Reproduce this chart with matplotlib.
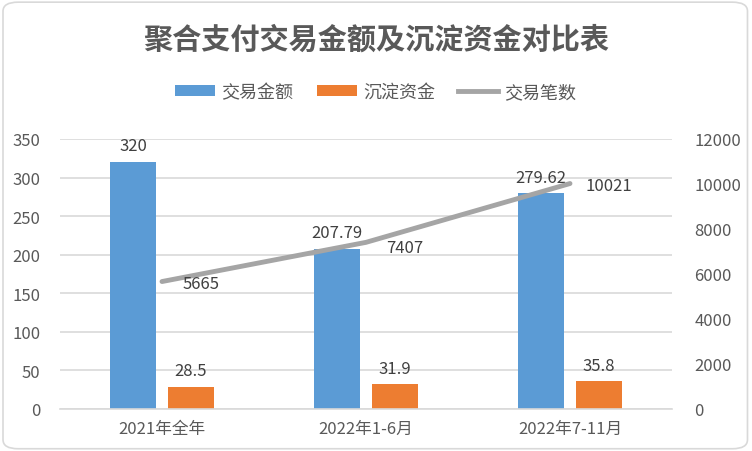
import matplotlib
matplotlib.use("Agg")
import matplotlib.pyplot as plt
from matplotlib.patches import FancyBboxPatch
from matplotlib.lines import Line2D
from matplotlib.patches import Patch
import numpy as np

plt.rcParams['font.family'] = ['Noto Sans CJK SC', 'DejaVu Sans']

# data
categories = ["2021年全年", "2022年1-6月", "2022年7-11月"]
amount = [320, 207.79, 279.62]          # 交易金额
deposit = [28.5, 31.9, 35.8]            # 沉淀资金
count = [5665, 7407, 10021]             # 交易笔数
amount_labels = ["320", "207.79", "279.62"]
deposit_labels = ["28.5", "31.9", "35.8"]

BLUE = "#5B9BD5"
ORANGE = "#ED7D31"
GRAY = "#A5A5A5"
TXT = "#595959"

fig = plt.figure(figsize=(7.52, 4.52), dpi=100)
fig.patch.set_facecolor("white")

# rounded chart border
border = FancyBboxPatch((0.004, 0.005), 0.99, 0.988,
                        boxstyle="round,pad=0,rounding_size=0.02",
                        transform=fig.transFigure, facecolor="none",
                        edgecolor="#D9D9D9", linewidth=1.2)
fig.patches.append(border)

ax = fig.add_axes([60 / 752, 1 - 410 / 452, 612 / 752, 270 / 452])
ax2 = ax.twinx()

x = np.arange(len(categories))
w = 0.225
off = 0.142
ax.bar(x - off, amount, w, color=BLUE, zorder=2)
ax.bar(x + off, deposit, w, color=ORANGE, zorder=2)

ax.set_xlim(-0.5, 2.5)
ax.set_ylim(0, 350)
ax.set_yticks(np.arange(0, 351, 50))
ax.grid(axis="y", color="#D9D9D9", linewidth=1.2, zorder=0)
ax.set_axisbelow(True)
for s in ["top", "right", "left"]:
    ax.spines[s].set_visible(False)
ax.spines["bottom"].set_color("#D9D9D9")
ax.spines["bottom"].set_linewidth(1.2)
ax.tick_params(axis="both", length=0, labelsize=12, labelcolor=TXT)
ax.tick_params(axis="y", pad=14)
ax.tick_params(axis="x", pad=8)
ax.set_xticks(x)
ax.set_xticklabels(categories)

for xi, v, lab in zip(x - off, amount, amount_labels):
    ax.text(xi, v + 10, lab, ha="center", va="bottom", fontsize=12, color="#404040")
for xi, v, lab in zip(x + off, deposit, deposit_labels):
    ax.text(xi, v + 10, lab, ha="center", va="bottom", fontsize=12, color="#404040")

ax2.plot(x, count, color=GRAY, linewidth=3.5, solid_capstyle="round", zorder=3)
ax2.set_ylim(0, 12000)
ax2.set_yticks(np.arange(0, 12001, 2000))
for s in ["top", "right", "left", "bottom"]:
    ax2.spines[s].set_visible(False)
ax2.tick_params(axis="y", length=0, labelsize=12, labelcolor=TXT, pad=16)

count_offsets = [(0.19, -10), (0.19, -25), (0.19, -10)]
for xi, v, (dx, dy) in zip(x, count, count_offsets):
    ax2.text(xi + dx, v + dy * 10, str(v), ha="center", va="center",
             fontsize=12, color="#404040")

fig.text(0.5, 1 - 40 / 452, "聚合支付交易金额及沉淀资金对比表", ha="center", va="center",
         fontsize=21, fontweight="bold", color=TXT)

handles = [Patch(facecolor=BLUE, edgecolor="none"),
           Patch(facecolor=ORANGE, edgecolor="none"),
           Line2D([0], [0], color=GRAY, linewidth=3.5)]
fig.legend(handles, ["交易金额", "沉淀资金", "交易笔数"], loc="center",
           bbox_to_anchor=(0.5, 1 - 93 / 452), ncol=3, frameon=False,
           fontsize=13, labelcolor=TXT, handlelength=2.2, handleheight=0.5,
           columnspacing=1.3, handletextpad=0.35)

fig.savefig("out.png", dpi=100)
